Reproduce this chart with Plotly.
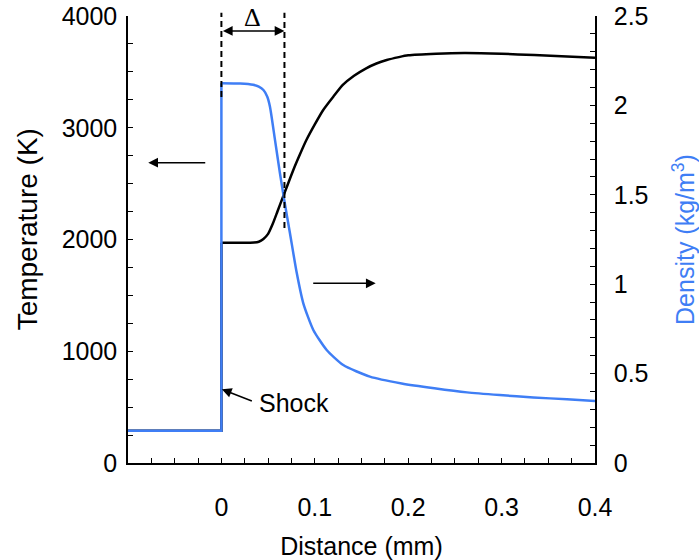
import numpy as np
import plotly.graph_objects as go

# ---- data ----
temp_x = [-0.1, 0.0, 0.0, 0.02, 0.035, 0.04, 0.045, 0.05, 0.055, 0.06, 0.066, 0.07, 0.077,
          0.084, 0.091, 0.1, 0.109, 0.12, 0.13, 0.142, 0.155, 0.166, 0.177, 0.19, 0.2,
          0.23, 0.26, 0.3, 0.335, 0.37, 0.4]
temp_K = [289, 289, 1971, 1971, 1973, 1980, 2005, 2050, 2140, 2250, 2383, 2470, 2622,
          2760, 2890, 3030, 3159, 3280, 3383, 3465, 3532, 3575, 3606, 3632, 3648,
          3662, 3668, 3662, 3650, 3638, 3627]

dens_x = [-0.1, 0.0, 0.0, 0.02, 0.034, 0.04, 0.045, 0.049, 0.052, 0.0574, 0.0627, 0.067,
          0.0734, 0.0806, 0.0877, 0.0984, 0.1127, 0.1305, 0.159, 0.193, 0.228, 0.263,
          0.298, 0.334, 0.37, 0.4]
dens_kg = [0.18, 0.18, 2.124, 2.122, 2.115, 2.105, 2.086, 2.05, 1.993, 1.806, 1.62, 1.48,
           1.285, 1.065, 0.893, 0.744, 0.632, 0.548, 0.483, 0.445, 0.418, 0.395,
           0.380, 0.367, 0.356, 0.347]

x_tick_vals = [0, 0.1, 0.2, 0.3, 0.4]
x_tick_text = ["0", "0.1", "0.2", "0.3", "0.4"]
delta_x = 0.0675          # end of relaxation zone (mm)
shock_x = 0.0
JUMP = 3                  # first three points: upstream state and the shock jump

BLUE = "#3F7EF5"
FONT = "Arial, Liberation Sans, sans-serif"

fig = go.Figure()
# temperature: upstream + jump (straight), relaxation zone (smooth)
fig.add_trace(go.Scatter(x=temp_x[:JUMP], y=temp_K[:JUMP], mode="lines",
                         line=dict(color="black", width=2.5), yaxis="y", showlegend=False))
fig.add_trace(go.Scatter(x=temp_x[JUMP - 1:], y=temp_K[JUMP - 1:], mode="lines",
                         line=dict(color="black", width=2.5, shape="spline", smoothing=0.6),
                         yaxis="y", showlegend=False))
# density
fig.add_trace(go.Scatter(x=dens_x[:JUMP], y=dens_kg[:JUMP], mode="lines",
                         line=dict(color=BLUE, width=2.5), yaxis="y2", showlegend=False))
fig.add_trace(go.Scatter(x=dens_x[JUMP - 1:], y=dens_kg[JUMP - 1:], mode="lines",
                         line=dict(color=BLUE, width=2.5, shape="spline", smoothing=0.6),
                         yaxis="y2", showlegend=False))

axis_common = dict(showgrid=False, zeroline=False, showline=True, linecolor="black",
                   linewidth=1.5, ticks="inside", ticklen=5, tickcolor="black", automargin=False,
                   tickfont=dict(family=FONT, size=25, color="black"))

fig.update_layout(
    width=699, height=560,
    margin=dict(l=128, r=104, t=16, b=97),
    paper_bgcolor="white", plot_bgcolor="white",
    xaxis=dict(range=[-0.1, 0.4], tickmode="array", tickvals=x_tick_vals, ticktext=x_tick_text,
               minor=dict(dtick=0.025, tick0=0, ticks="inside", ticklen=5, tickcolor="black"),
               ticklabelstandoff=21,
               title=dict(text="Distance (mm)", font=dict(family=FONT, size=25, color="black"),
                          standoff=20),
               **axis_common),
    yaxis=dict(range=[0, 4000], dtick=1000,
               minor=dict(dtick=250, ticks="inside", ticklen=5, tickcolor="black"),
               ticklabelstandoff=4,
               **axis_common),
    yaxis2=dict(range=[0, 2.5], dtick=0.5, overlaying="y", side="right",
                minor=dict(dtick=0.1, ticks="inside", ticklen=5, tickcolor="black"),
                ticklabelstandoff=12,
                title=dict(text="Density (kg/m<sup>3</sup>)", font=dict(family=FONT, size=25, color=BLUE),
                           standoff=29),
                **axis_common),
)

# left axis title
fig.add_annotation(text="Temperature (K)", xref="paper", yref="paper", x=-0.216, y=0.523,
                   textangle=-90, showarrow=False, xanchor="center", yanchor="middle",
                   font=dict(family=FONT, size=28, color="black"))

# dashed delimiters of the relaxation zone
fig.add_shape(type="line", xref="x", yref="paper", x0=shock_x, x1=shock_x, y0=0.819, y1=1.007,
              line=dict(color="black", width=2, dash="6px,4px"))
fig.add_shape(type="line", xref="x", yref="paper", x0=delta_x, x1=delta_x, y0=0.526, y1=1.007,
              line=dict(color="black", width=2, dash="6px,4px"))

arrow = dict(showarrow=True, arrowhead=2, arrowsize=1.3, arrowwidth=1.5, arrowcolor="black",
             axref="x", ayref="y", xref="x", yref="y", text="")
# Δ double arrow
fig.add_annotation(x=delta_x, y=3866, ax=shock_x, ay=3866, arrowside="end+start", **arrow)
fig.add_annotation(x=delta_x / 2, y=3990, text="Δ", showarrow=False,
                   font=dict(family="Liberation Serif, Times New Roman, serif", size=26, color="black"))
# axis pointers
fig.add_annotation(x=-0.0783, y=2687, ax=-0.0157, ay=2687, **arrow)
fig.add_annotation(x=0.1652, y=1608, ax=0.0967, ay=1608, **arrow)
# shock pointer
fig.add_annotation(x=0.0005, y=660, ax=0.0342, ay=549, **arrow)
fig.add_annotation(x=0.0378, y=537, text="Shock", showarrow=False, xanchor="left",
                   font=dict(family=FONT, size=25, color="black"))

fig.write_html("out.html", config={"displayModeBar": False},
               post_script="document.body.style.margin='0';")
